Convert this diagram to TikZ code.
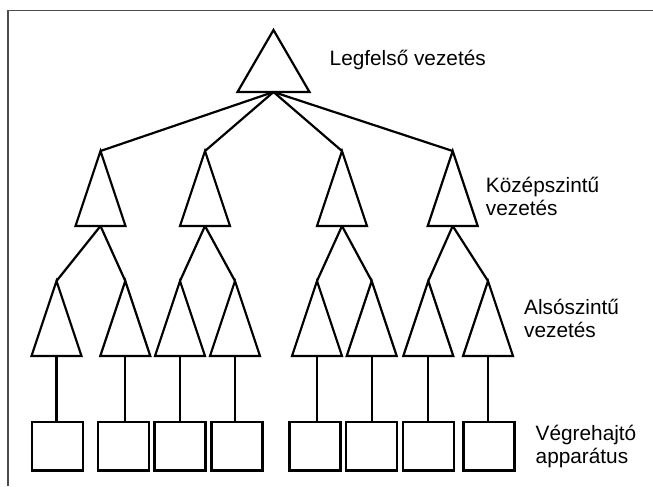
\documentclass[tikz,border=0pt]{standalone}
\usepackage{fontspec}
\setmainfont{Liberation Sans}
\begin{document}
\begin{tikzpicture}[x=1pt,y=-1pt,
  shape line/.style={line width=2.2pt, line join=miter},
  link/.style={line width=2.2pt},
  frame/.style={line width=1.6pt, draw=black!70},
  box/.style={draw, line width=2.2pt, rectangle, minimum width=51pt, minimum height=48.5pt, inner sep=0pt},
  lbl/.style={font=\fontsize{20.8}{23}\selectfont, align=left, inner sep=0pt, anchor=base west}]
\useasboundingbox (0,0) rectangle (653,487);
% frame
\draw[frame] (8,486) -- (8,10.7) -- (653,10.7);
% triangle macro: name, apex x, apex y, half width, height
\newcommand{\mytri}[5]{%
  \draw[shape line] (#2,#3) -- (#2+#4,#3+#5) -- (#2-#4,#3+#5) -- cycle;
  \coordinate (#1-top) at (#2,#3);
  \coordinate (#1-bot) at (#2,#3+#5);}
\mytri{top}{273.5}{30}{36}{62}
\mytri{m1}{100.5}{151}{25}{75}
\mytri{m2}{205}{151}{25}{75}
\mytri{m3}{342}{151}{25}{75}
\mytri{m4}{452.7}{151}{25}{75}
\mytri{l1}{56.5}{281}{25}{75}
\mytri{l2}{125.3}{281}{25}{75}
\mytri{l3}{180}{281}{25}{75}
\mytri{l4}{235}{281}{25}{75}
\mytri{l5}{317}{281}{25}{75}
\mytri{l6}{371.7}{281}{25}{75}
\mytri{l7}{428.3}{281}{25}{75}
\mytri{l8}{488}{281}{25}{75}
% squares
\node[box] (s1) at (57.5,446.3) {};
\node[box] (s2) at (123.3,446.3) {};
\node[box] (s3) at (180,446.3) {};
\node[box] (s4) at (237,446.3) {};
\node[box] (s5) at (315,446.3) {};
\node[box] (s6) at (371.7,446.3) {};
\node[box] (s7) at (428.3,446.3) {};
\node[box] (s8) at (488.9,446.3) {};
% links
\foreach \m in {m1,m2,m3,m4} \draw[link] (top-bot) -- (\m-top);
\draw[link] (m1-bot) -- (l1-top);
\draw[link] (m1-bot) -- (l2-top);
\draw[link] (m2-bot) -- (l3-top);
\draw[link] (m2-bot) -- (l4-top);
\draw[link] (m3-bot) -- (l5-top);
\draw[link] (m3-bot) -- (l6-top);
\draw[link] (m4-bot) -- (l7-top);
\draw[link] (m4-bot) -- (l8-top);
\foreach \i in {1,...,8} \draw[link] (l\i-bot) -- (l\i-bot |- s\i.north);
% labels
\node[lbl] (t1) at (329.5,66) {Legfelső vezetés};
\node[lbl] (t2) at (485.7,215.5) {Középszintű\\vezetés};
\node[lbl] (t3) at (524,337.5) {Alsószintű\\vezetés};
\node[lbl] (t4) at (535.5,463.5) {Végrehajtó\\apparátus};
\end{tikzpicture}
\end{document}
